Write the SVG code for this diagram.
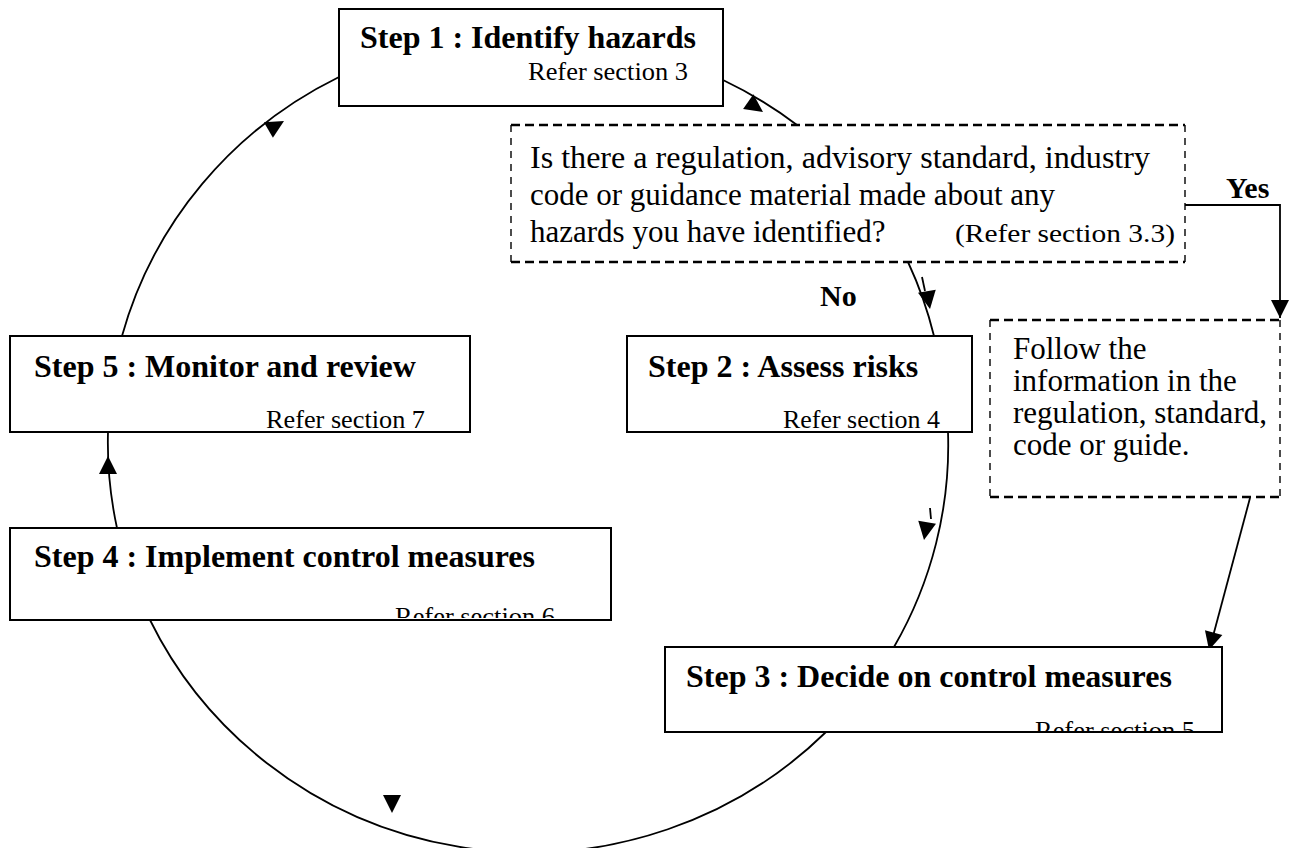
<svg xmlns="http://www.w3.org/2000/svg" xmlns:xlink="http://www.w3.org/1999/xlink" width="1295" height="848" viewBox="0 0 1295 848">
<style>
.box{fill:#fff;stroke:#000;stroke-width:2}
.dh{fill:none;stroke:#000;stroke-width:2.6;stroke-dasharray:9 5}
.dv{fill:none;stroke:#000;stroke-width:1.4;stroke-dasharray:7 6}
.t{font-family:"Liberation Serif","Times New Roman",serif;font-weight:bold;font-size:32px;fill:#000}
.r{font-family:"Liberation Serif","Times New Roman",serif;font-size:26px;fill:#000}
.q{font-family:"Liberation Serif","Times New Roman",serif;font-size:31px;fill:#000}
.lbl{font-family:"Liberation Serif","Times New Roman",serif;font-weight:bold;font-size:30px;fill:#000}
.c{fill:none;stroke:#000;stroke-width:1.8}
.ah{fill:#000}
</style>
<defs>
<path id="ah" d="M0,0 L-18,-9 L-18,9 Z"/>
<clipPath id="c1"><rect x="340" y="10" width="383" height="95"/></clipPath>
<clipPath id="c2"><rect x="628" y="337" width="343" height="94"/></clipPath>
<clipPath id="c3"><rect x="666" y="648" width="555" height="83"/></clipPath>
<clipPath id="c4"><rect x="11" y="529" width="599" height="89"/></clipPath>
<clipPath id="c5"><rect x="11" y="337" width="458" height="94"/></clipPath>
</defs>
<rect width="1295" height="848" fill="#fff"/>

<g id="connectors">
<path class="c" d="M723,80 A420,410 0 0 1 797,125"/>
<path class="c" d="M908,262 A420,410 0 0 1 934,336"/>
<path class="c" d="M948,432 A420,410 0 0 1 894,647"/>
<path class="c" d="M826,732 A420,410 0 0 1 150,620"/>
<path class="c" d="M117,528 A420,410 0 0 1 108,432"/>
<path class="c" d="M122,336 A420,410 0 0 1 339,77"/>
<path class="c" d="M1184,205 H1280 V318"/>
<path class="c" d="M1250,498 L1212,640"/>
<path class="c" d="M922,277 L925,291"/>
<path class="c" d="M930,508 L931,519"/>
<use href="#ah" class="ah" transform="translate(284,121) rotate(-30)"/>
<use href="#ah" class="ah" transform="translate(763,112) rotate(35)"/>
<use href="#ah" class="ah" transform="translate(930,309) rotate(80)"/>
<use href="#ah" class="ah" transform="translate(924,540) rotate(100)"/>
<use href="#ah" class="ah" transform="translate(392,813) rotate(90)"/>
<use href="#ah" class="ah" transform="translate(108,456) rotate(-90)"/>
<use href="#ah" class="ah" transform="translate(1280,318) rotate(90)"/>
<use href="#ah" class="ah" transform="translate(1209,650) rotate(105)"/>
<text class="lbl" x="1226" y="198">Yes</text>
<text class="lbl" x="820" y="306">No</text>
</g>

<g id="step1">
<rect class="box" x="339" y="9" width="384" height="97"/>
<text class="t" x="360" y="48">Step 1 : Identify hazards</text>
<text class="r" x="528" y="80" textLength="160" lengthAdjust="spacingAndGlyphs" clip-path="url(#c1)">Refer section 3</text>
</g>

<g id="question">
<rect x="511" y="125" width="674" height="137" fill="#fff"/>
<path class="dh" d="M511,125 H1185 M511,262 H1185"/>
<path class="dv" d="M511,125 V262 M1185,125 V262"/>
<text class="q" x="530" y="168" textLength="620" lengthAdjust="spacingAndGlyphs">Is there a regulation, advisory standard, industry</text>
<text class="q" x="530" y="205">code or guidance material made about any</text>
<text class="q" x="530" y="242">hazards you have identified?</text>
<text class="r" x="955" y="242" textLength="220" lengthAdjust="spacingAndGlyphs">(Refer section 3.3)</text>
</g>

<g id="follow">
<rect x="990" y="320" width="290" height="177" fill="#fff"/>
<path class="dh" d="M990,320 H1280 M990,497 H1280"/>
<path class="dv" d="M990,320 V497 M1280,320 V497"/>
<text class="q" x="1013" y="359">Follow the</text>
<text class="q" x="1013" y="391">information in the</text>
<text class="q" x="1013" y="423">regulation, standard,</text>
<text class="q" x="1013" y="455">code or guide.</text>
</g>

<g id="step2">
<rect class="box" x="627" y="336" width="345" height="96"/>
<text class="t" x="648" y="377">Step 2 : Assess risks</text>
<text class="r" x="783" y="428" textLength="157" lengthAdjust="spacingAndGlyphs" clip-path="url(#c2)">Refer section 4</text>
</g>

<g id="step5">
<rect class="box" x="10" y="336" width="460" height="96"/>
<text class="t" x="34" y="377">Step 5 : Monitor and review</text>
<text class="r" x="266" y="428" textLength="159" lengthAdjust="spacingAndGlyphs" clip-path="url(#c5)">Refer section 7</text>
</g>

<g id="step4">
<rect class="box" x="10" y="528" width="601" height="92"/>
<text class="t" x="34" y="567">Step 4 : Implement control measures</text>
<text class="r" x="395" y="625" textLength="160" lengthAdjust="spacingAndGlyphs" clip-path="url(#c4)">Refer section 6</text>
</g>

<g id="step3">
<rect class="box" x="665" y="647" width="557" height="85"/>
<text class="t" x="686" y="687">Step 3 : Decide on control measures</text>
<text class="r" x="1035" y="739" textLength="160" lengthAdjust="spacingAndGlyphs" clip-path="url(#c3)">Refer section 5</text>
</g>
</svg>
